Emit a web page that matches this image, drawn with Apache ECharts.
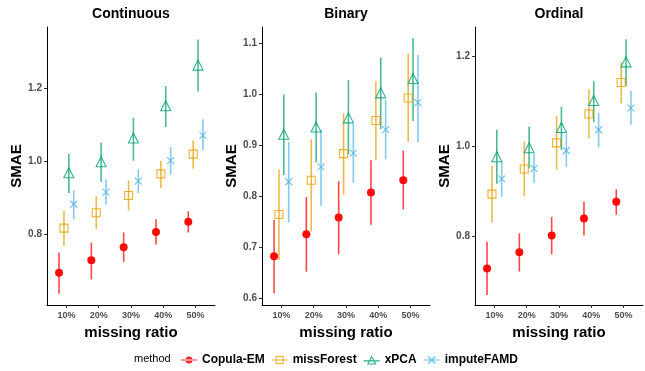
<!DOCTYPE html>
<html><head><meta charset="utf-8">
<script src="https://cdn.jsdelivr.net/npm/echarts@6/dist/echarts.min.js"></script>
<style>html,body{margin:0;padding:0;background:#fff}#c{width:645px;height:371px}</style>
</head><body><div id="c"></div>
<script>
// ---------- data ----------
const ratioLabels = ['10%', '20%', '30%', '40%', '50%'];
const methods = ['Copula-EM', 'missForest', 'xPCA', 'imputeFAMD'];
const panelTitles = ['Continuous', 'Binary', 'Ordinal'];
const contYTicks = [0.8, 1.0, 1.2];
const binYTicks = [0.6, 0.7, 0.8, 0.9, 1.0, 1.1];
const ordYTicks = [0.8, 1.0, 1.2];

// Continuous
const contCopulaMean = [0.695, 0.729, 0.765, 0.806, 0.834];
const contCopulaLow  = [0.638, 0.677, 0.725, 0.772, 0.805];
const contCopulaHigh = [0.750, 0.777, 0.805, 0.841, 0.863];
const contMfMean = [0.817, 0.859, 0.906, 0.965, 1.019];
const contMfLow  = [0.768, 0.815, 0.865, 0.926, 0.979];
const contMfHigh = [0.864, 0.904, 0.947, 1.001, 1.056];
const contXpcaMean = [0.968, 0.998, 1.063, 1.151, 1.262];
const contXpcaLow  = [0.913, 0.943, 1.001, 1.093, 1.190];
const contXpcaHigh = [1.019, 1.050, 1.118, 1.205, 1.332];
const contFamdMean = [0.882, 0.915, 0.945, 1.001, 1.070];
const contFamdLow  = [0.841, 0.881, 0.913, 0.963, 1.029];
const contFamdHigh = [0.920, 0.950, 0.977, 1.038, 1.114];

// Binary
const binCopulaMean = [0.683, 0.726, 0.759, 0.808, 0.832];
const binCopulaLow  = [0.610, 0.653, 0.687, 0.745, 0.775];
const binCopulaHigh = [0.754, 0.799, 0.830, 0.871, 0.890];
const binMfMean = [0.765, 0.832, 0.884, 0.949, 0.993];
const binMfLow  = [0.676, 0.732, 0.804, 0.871, 0.907];
const binMfHigh = [0.853, 0.912, 0.963, 1.026, 1.080];
const binXpcaMean = [0.922, 0.936, 0.954, 1.003, 1.031];
const binXpcaLow  = [0.842, 0.867, 0.883, 0.932, 0.948];
const binXpcaHigh = [1.000, 1.003, 1.028, 1.072, 1.110];
const binFamdMean = [0.829, 0.858, 0.885, 0.931, 0.984];
const binFamdLow  = [0.749, 0.782, 0.827, 0.873, 0.907];
const binFamdHigh = [0.907, 0.930, 0.943, 0.989, 1.077];

// Ordinal
const ordCopulaMean = [0.728, 0.764, 0.801, 0.839, 0.876];
const ordCopulaLow  = [0.669, 0.721, 0.759, 0.801, 0.847];
const ordCopulaHigh = [0.787, 0.806, 0.842, 0.876, 0.904];
const ordMfMean = [0.893, 0.949, 1.007, 1.071, 1.141];
const ordMfLow  = [0.830, 0.889, 0.948, 1.017, 1.095];
const ordMfHigh = [0.956, 1.010, 1.067, 1.126, 1.186];
const ordXpcaMean = [0.976, 0.996, 1.041, 1.101, 1.187];
const ordXpcaLow  = [0.916, 0.950, 0.991, 1.053, 1.133];
const ordXpcaHigh = [1.036, 1.043, 1.087, 1.144, 1.237];
const ordFamdMean = [0.927, 0.950, 0.990, 1.036, 1.084];
const ordFamdLow  = [0.887, 0.917, 0.953, 0.997, 1.047];
const ordFamdHigh = [0.965, 0.982, 1.028, 1.074, 1.122];

// ---------- chart ----------
const FONT = 'Liberation Sans';
const methodColors = ['#FF0000', '#E69F00', '#009E73', '#56B4E9'];
const dodge = [-0.227, -0.075, 0.075, 0.227];

const panels = [
  { title: panelTitles[0], ticks: contYTicks, min: 0.607, max: 1.366, left: 47,
    sets: [[contCopulaMean, contCopulaLow, contCopulaHigh], [contMfMean, contMfLow, contMfHigh],
           [contXpcaMean, contXpcaLow, contXpcaHigh], [contFamdMean, contFamdLow, contFamdHigh]] },
  { title: panelTitles[1], ticks: binYTicks, min: 0.5877, max: 1.1319, left: 262,
    sets: [[binCopulaMean, binCopulaLow, binCopulaHigh], [binMfMean, binMfLow, binMfHigh],
           [binXpcaMean, binXpcaLow, binXpcaHigh], [binFamdMean, binFamdLow, binFamdHigh]] },
  { title: panelTitles[2], ticks: ordYTicks, min: 0.6467, max: 1.2644, left: 475,
    sets: [[ordCopulaMean, ordCopulaLow, ordCopulaHigh], [ordMfMean, ordMfLow, ordMfHigh],
           [ordXpcaMean, ordXpcaLow, ordXpcaHigh], [ordFamdMean, ordFamdLow, ordFamdHigh]] }
];

const GRID_W = 168, GRID_TOP = 27, GRID_H = 278;
const symbolDefs = [
  { symbol: 'circle', size: 8, itemStyle: { color: methodColors[0], opacity: 0.95 } },
  { symbol: 'rect', size: 8, itemStyle: { color: 'transparent', borderColor: methodColors[1], borderWidth: 1.1, opacity: 0.8 } },
  { symbol: 'triangle', size: 10, itemStyle: { color: 'transparent', borderColor: methodColors[2], borderWidth: 1.1, opacity: 0.8 } },
  { symbol: 'path://M0,0L10,10M10,0L0,10', size: 7, itemStyle: { color: 'transparent', borderColor: methodColors[3], borderWidth: 1.2, opacity: 0.8 } }
];

const grids = [], xAxes = [], yAxes = [], series = [], graphics = [];
const xTickVals = ratioLabels.map((_, i) => i + 1);

panels.forEach((p, pi) => {
  grids.push({ left: p.left, top: GRID_TOP, width: GRID_W, height: GRID_H });
  xAxes.push({
    type: 'value', gridIndex: pi, min: 0.4, max: 5.6,
    name: 'missing ratio', nameLocation: 'middle', nameGap: 12,
    nameTextStyle: { fontFamily: FONT, fontWeight: 'bold', fontSize: 15, color: '#000' },
    axisLine: { onZero: false, lineStyle: { color: '#000', width: 1 } },
    axisTick: { customValues: xTickVals, length: 3, lineStyle: { color: '#333' } },
    axisLabel: { customValues: xTickVals, formatter: v => ratioLabels[Math.round(v) - 1],
      fontFamily: FONT, fontWeight: 'bold', fontSize: 9, color: '#4D4D4D', margin: 6 },
    splitLine: { show: false }
  });
  yAxes.push({
    type: 'value', gridIndex: pi, min: p.min, max: p.max,
    name: 'SMAE', nameLocation: 'middle', nameGap: 22, nameRotate: 90,
    nameTextStyle: { fontFamily: FONT, fontWeight: 'bold', fontSize: 15, color: '#000' },
    axisLine: { show: true, onZero: false, lineStyle: { color: '#000', width: 1 } },
    axisTick: { show: true, customValues: p.ticks, length: 3, lineStyle: { color: '#333' } },
    axisLabel: { customValues: p.ticks, formatter: v => v.toFixed(1),
      fontFamily: FONT, fontWeight: 'bold', fontSize: 10, color: '#4D4D4D', margin: 5 },
    splitLine: { show: false }
  });
  graphics.push({
    type: 'text', x: p.left + GRID_W / 2, y: 14,
    style: { text: p.title, fontFamily: FONT, fontWeight: 'bold', fontSize: 14, fill: '#000',
      textAlign: 'center', textVerticalAlign: 'middle' }
  });
  p.sets.forEach((set, mi) => {
    const [mean, lo, hi] = set;
    const color = methodColors[mi];
    series.push({
      type: 'custom', name: methods[mi], xAxisIndex: pi, yAxisIndex: pi, z: 2, silent: true,
      data: mean.map((v, i) => [i + 1 + dodge[mi], lo[i], hi[i]]),
      encode: { x: 0, y: [1, 2] },
      renderItem: (params, api) => {
        const a = api.coord([api.value(0), api.value(1)]);
        const b = api.coord([api.value(0), api.value(2)]);
        return { type: 'line', shape: { x1: a[0], y1: a[1], x2: b[0], y2: b[1] },
          style: { stroke: color, lineWidth: 1.6, opacity: 0.72 } };
      }
    });
  });
  p.sets.forEach((set, mi) => {
    const [mean] = set;
    const sd = symbolDefs[mi];
    series.push({
      type: 'scatter', name: methods[mi], xAxisIndex: pi, yAxisIndex: pi, z: 3, silent: true,
      symbol: sd.symbol, symbolSize: sd.size, symbolKeepAspect: true,
      itemStyle: sd.itemStyle,
      data: mean.map((v, i) => [i + 1 + dodge[mi], v])
    });
  });
});

const legendIcons = [
  'path://M0,4.4H16V5.6H0Z M4.5,5A3.5,3.5 0 1,0 11.5,5A3.5,3.5 0 1,0 4.5,5Z',
  'path://M0,4.4H16V5.6H0Z M4,1H12V9H4Z M5,2V8H11V2Z',
  'path://M0,5.2H16V6.4H0Z M8,0.5L12.8,9.3H3.2Z M8,2.7L4.9,8.3H11.1Z',
  'path://M0,4.4H16V5.6H0Z M4,2L5,1L12,8L11,9Z M11,1L12,2L5,9L4,8Z'
];

graphics.push({
  type: 'text', x: 134, y: 359,
  style: { text: 'method', fontFamily: FONT, fontSize: 11, fill: '#000', textAlign: 'left', textVerticalAlign: 'middle' }
});

const chart = echarts.init(document.getElementById('c'), null, { renderer: 'canvas' });
chart.setOption({
  animation: false,
  backgroundColor: '#fff',
  grid: grids, xAxis: xAxes, yAxis: yAxes, series: series,
  legend: {
    left: 176, top: 349, itemWidth: 16, itemHeight: 10, itemGap: 7, selectedMode: false,
    textStyle: { fontFamily: FONT, fontWeight: 'bold', fontSize: 12, color: '#000' },
    data: methods.map((m, i) => ({ name: m, icon: legendIcons[i],
      itemStyle: { color: methodColors[i], borderWidth: 0, opacity: 0.85 } }))
  },
  graphic: graphics
});
</script></body></html>
